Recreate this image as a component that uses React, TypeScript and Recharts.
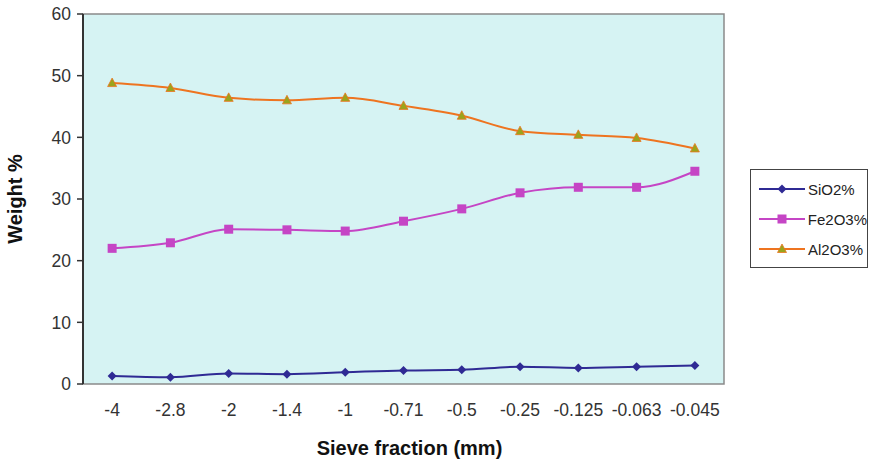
import React from "react";
import {
  LineChart,
  Line,
  XAxis,
  YAxis,
  ReferenceArea,
} from "recharts";

const categories = ["-4", "-2.8", "-2", "-1.4", "-1", "-0.71", "-0.5", "-0.25", "-0.125", "-0.063", "-0.045"];
const sio2 = [1.3, 1.1, 1.7, 1.6, 1.9, 2.2, 2.3, 2.8, 2.6, 2.8, 3.0];
const fe2o3 = [22.0, 22.9, 25.1, 25.0, 24.8, 26.4, 28.4, 31.0, 31.9, 31.9, 34.5];
const al2o3 = [48.8, 48.0, 46.4, 46.0, 46.4, 45.1, 43.5, 41.0, 40.4, 39.9, 38.2];
const yTicks = [0, 10, 20, 30, 40, 50, 60];

const COLORS = {
  sio2: "#2f2a94",
  fe2o3: "#c545c5",
  al2o3: "#ee7420",
  triFill: "#9aa41c",
};

const data = categories.map((c, i) => ({
  idx: i,
  label: c,
  sio2: sio2[i],
  fe2o3: fe2o3[i],
  al2o3: al2o3[i],
}));

const labelTicks = categories.map((_, i) => i);
const edgeTicks = [...categories.map((_, i) => i - 0.5), categories.length - 0.5];

type Shape = "diamond" | "square" | "triangle";

function Marker({ cx, cy, shape, color }: { cx: number; cy: number; shape: Shape; color: string }) {
  if (shape === "diamond") {
    return <polygon points={`${cx},${cy - 4.5} ${cx + 4.5},${cy} ${cx},${cy + 4.5} ${cx - 4.5},${cy}`} fill={color} />;
  }
  if (shape === "square") {
    return <rect x={cx - 4.5} y={cy - 4.5} width={9} height={9} fill={color} />;
  }
  return (
    <polygon
      points={`${cx},${cy - 5} ${cx + 4.5},${cy + 3.5} ${cx - 4.5},${cy + 3.5}`}
      fill={COLORS.triFill}
      stroke={COLORS.al2o3}
      strokeWidth={0.8}
    />
  );
}

const series = [
  { key: "sio2", name: "SiO2%", color: COLORS.sio2, shape: "diamond" as Shape },
  { key: "fe2o3", name: "Fe2O3%", color: COLORS.fe2o3, shape: "square" as Shape },
  { key: "al2o3", name: "Al2O3%", color: COLORS.al2o3, shape: "triangle" as Shape },
];

const font = "Arial, 'Liberation Sans', sans-serif";

function LegendBox() {
  return (
    <div
      style={{
        position: "absolute",
        left: 750,
        top: 169,
        border: "1px solid #444",
        background: "#fff",
        padding: "4px 0 4px 2px",
        fontFamily: font,
        fontSize: 15,
        color: "#222",
        boxSizing: "border-box",
        width: 118,
        height: 99,
      }}
    >
      {series.map((s) => (
        <div key={s.key} style={{ display: "flex", alignItems: "center", height: 30 }}>
          <svg width={54} height={14}>
            <line x1={6} y1={7} x2={52} y2={7} stroke={s.color} strokeWidth={2} />
            <Marker cx={29} cy={7} shape={s.shape} color={s.color} />
          </svg>
          <span style={{ marginLeft: 1 }}>{s.name}</span>
        </div>
      ))}
    </div>
  );
}

export default function App() {
  return (
    <div style={{ position: "absolute", left: 0, top: 0, width: 871, height: 461, background: "#fff", fontFamily: font }}>
      <LineChart
        width={871}
        height={461}
        data={data}
        margin={{ top: 14, right: 147, bottom: 37, left: 43 }}
      >
        <ReferenceArea
          xAxisId="edges"
          x1={-0.5}
          x2={categories.length - 0.5}
          y1={0}
          y2={60}
          fill="#d6f3f3"
          fillOpacity={1}
          stroke="#8a8a8a"
          strokeWidth={1.5}
        />
        <XAxis
          xAxisId="edges"
          dataKey="idx"
          type="number"
          domain={[-0.5, categories.length - 0.5]}
          ticks={edgeTicks}
          height={0}
          tick={false}
          tickLine={{ stroke: "#333", strokeWidth: 1.5 }}
          tickSize={6}
          axisLine={{ stroke: "#333", strokeWidth: 2 }}
        />
        <XAxis
          xAxisId="main"
          dataKey="idx"
          type="number"
          domain={[-0.5, categories.length - 0.5]}
          ticks={labelTicks}
          interval={0}
          tickFormatter={(v: number) => categories[v]}
          height={40}
          tickLine={false}
          axisLine={false}
          tickSize={6}
          tickMargin={14}
          tick={{ fill: "#333", fontSize: 17.5, fontFamily: font }}
          label={{
            value: "Sieve fraction (mm)",
            position: "insideBottom",
            offset: -31,
            dx: 6,
            style: { fontWeight: "bold", fontSize: 20, fill: "#111", fontFamily: font },
          }}
        />
        <YAxis
          domain={[0, 60]}
          ticks={yTicks}
          width={40}
          tickSize={6}
          tickMargin={6}
          tick={{ fill: "#333", fontSize: 17.5, fontFamily: font }}
          tickLine={{ stroke: "#333", strokeWidth: 1.5 }}
          axisLine={{ stroke: "#333", strokeWidth: 2 }}
          label={{
            value: "Weight %",
            angle: -90,
            position: "insideLeft",
            offset: -28,
            style: { textAnchor: "middle", fontWeight: "bold", fontSize: 20, fill: "#111", fontFamily: font },
          }}
        />
        {series.map((s) => (
          <Line
            key={s.key}
            xAxisId="main"
            type="monotone"
            dataKey={s.key}
            name={s.name}
            stroke={s.color}
            strokeWidth={2}
            isAnimationActive={false}
            dot={(p: any) => <Marker key={`${s.key}-${p.index}`} cx={p.cx} cy={p.cy} shape={s.shape} color={s.color} />}
            activeDot={false}
          />
        ))}
      </LineChart>
      <LegendBox />
    </div>
  );
}
